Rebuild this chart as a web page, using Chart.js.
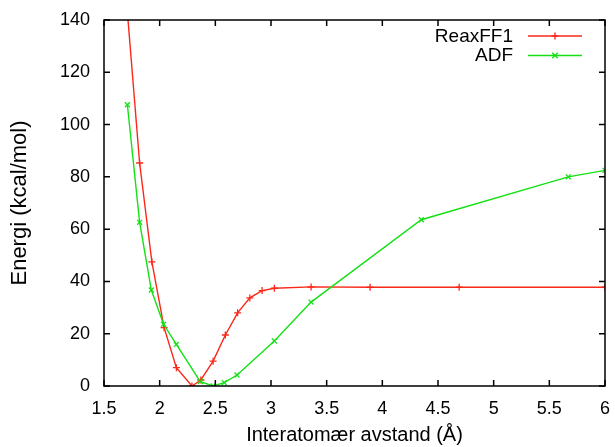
<!DOCTYPE html>
<html>
<head>
<meta charset="utf-8">
<script src="https://cdn.jsdelivr.net/npm/chart.js@4/dist/chart.umd.min.js"></script>
<style>
  body { margin: 0; background: #fff; }
  canvas { display: block; }
</style>
</head>
<body>
<canvas id="energyChart" width="615" height="447"></canvas>
<script>
// values
const reaxDist = [1.71, 1.82, 1.93, 2.04, 2.15, 2.29, 2.37, 2.48, 2.59, 2.70, 2.81, 2.92, 3.03, 3.36, 3.89, 4.69, 6.0];
const reaxEnergy = [143, 85.3, 47.5, 22.3, 7.0, 0, 2.3, 9.5, 19.5, 28.0, 33.7, 36.5, 37.4, 37.9, 37.8, 37.8, 37.8];

const adfDist = [1.71, 1.82, 1.925, 2.035, 2.15, 2.365, 2.48, 2.58, 2.695, 3.03, 3.36, 4.35, 5.67, 6.0];
const adfEnergy = [107.6, 62.6, 36.7, 23.6, 15.9, 1.7, 0, 1.3, 4.2, 17.2, 32.1, 63.6, 80.0, 82.5];

const seriesNames = ['ReaxFF1', 'ADF'];
const xTitle = 'Interatomær avstand (Å)';
const yTitle = 'Energi (kcal/mol)';

const RED = 'rgb(250,40,25)';
const GREEN = 'rgb(20,225,20)';
const FONT = "'Liberation Sans', Arial, sans-serif";

function toPoints(xs, ys) {
    return xs.map((x, i) => ({ x: x, y: ys[i] }));
}

// gnuplot style frame: box with inward ticks on all four sides
const frameTicks = {
    id: 'frameTicks',
    afterDraw(chart) {
        const { ctx, chartArea: a, scales } = chart;
        const len = 6;
        ctx.save();
        ctx.strokeStyle = '#000';
        ctx.lineWidth = 1.5;
        ctx.beginPath();
        scales.x.ticks.forEach(t => {
            const px = scales.x.getPixelForValue(t.value);
            ctx.moveTo(px, a.bottom); ctx.lineTo(px, a.bottom - len);
            ctx.moveTo(px, a.top); ctx.lineTo(px, a.top + len);
        });
        scales.y.ticks.forEach(t => {
            const py = scales.y.getPixelForValue(t.value);
            ctx.moveTo(a.left, py); ctx.lineTo(a.left + len, py);
            ctx.moveTo(a.right, py); ctx.lineTo(a.right - len, py);
        });
        ctx.stroke();
        ctx.strokeRect(a.left, a.top, a.right - a.left, a.bottom - a.top);
        ctx.restore();
    }
};

// legend in the top right corner: text on the left, sample on the right
const keyBox = {
    id: 'keyBox',
    afterDraw(chart) {
        const ctx = chart.ctx;
        const textRight = 513;
        const lineStart = 528, lineEnd = 582;
        ctx.save();
        ctx.font = '19px ' + FONT;
        ctx.textAlign = 'right';
        ctx.textBaseline = 'middle';
        chart.data.datasets.forEach((ds, i) => {
            const y = 36 + i * 19.5;
            ctx.fillStyle = '#000';
            ctx.fillText(ds.label, textRight, y + 0.5);
            ctx.strokeStyle = ds.borderColor;
            ctx.lineWidth = ds.borderWidth;
            ctx.beginPath();
            ctx.moveTo(lineStart, y);
            ctx.lineTo(lineEnd, y);
            ctx.stroke();
            const mx = (lineStart + lineEnd) / 2;
            const r = ds.pointRadius;
            ctx.beginPath();
            if (ds.pointStyle === 'cross') {
                ctx.moveTo(mx - r, y); ctx.lineTo(mx + r, y);
                ctx.moveTo(mx, y - r); ctx.lineTo(mx, y + r);
            } else {
                const d = r * 0.8;
                ctx.moveTo(mx - d, y - d); ctx.lineTo(mx + d, y + d);
                ctx.moveTo(mx - d, y + d); ctx.lineTo(mx + d, y - d);
            }
            ctx.stroke();
        });
        ctx.restore();
    }
};

const ctx = document.getElementById('energyChart').getContext('2d');
new Chart(ctx, {
    type: 'scatter',
    data: {
        datasets: [{
            label: seriesNames[0],
            data: toPoints(reaxDist, reaxEnergy),
            showLine: true,
            borderColor: RED,
            backgroundColor: RED,
            borderWidth: 1.4,
            pointStyle: 'cross',
            pointRadius: 3.5,
            pointBorderWidth: 1.3,
            tension: 0,
            clip: 0,
            order: 2
        }, {
            label: seriesNames[1],
            data: toPoints(adfDist, adfEnergy),
            showLine: true,
            borderColor: GREEN,
            backgroundColor: GREEN,
            borderWidth: 1.4,
            pointStyle: 'crossRot',
            pointRadius: 3.5,
            pointBorderWidth: 1.3,
            tension: 0,
            clip: 0,
            order: 1
        }]
    },
    options: {
        responsive: false,
        animation: false,
        devicePixelRatio: 1,
        layout: { padding: { top: 20, right: 10, left: 0, bottom: 0 } },
        plugins: {
            legend: { display: false },
            tooltip: { enabled: false }
        },
        scales: {
            x: {
                type: 'linear',
                min: 1.5,
                max: 6,
                afterFit: scale => {
                    scale.height = 61;
                    scale.paddingLeft = 0;
                    scale.paddingRight = 0;
                },
                grid: { display: false, drawTicks: false },
                border: { display: false },
                ticks: {
                    stepSize: 0.5,
                    padding: 12,
                    color: '#000',
                    font: { family: FONT, size: 18 },
                    maxRotation: 0,
                    callback: v => String(v)
                },
                title: {
                    display: true,
                    text: xTitle,
                    color: '#000',
                    font: { family: FONT, size: 20 },
                    padding: { top: 0, bottom: 0 }
                }
            },
            y: {
                min: 0,
                max: 140,
                afterFit: scale => {
                    scale.width = 104;
                    scale.paddingTop = 0;
                    scale.paddingBottom = 0;
                },
                grid: { display: false, drawTicks: false },
                border: { display: false },
                ticks: {
                    stepSize: 20,
                    padding: 14,
                    color: '#000',
                    font: { family: FONT, size: 18 }
                },
                title: {
                    display: true,
                    text: yTitle,
                    color: '#000',
                    font: { family: FONT, size: 22 },
                    padding: { top: 7, bottom: 0 }
                }
            }
        }
    },
    plugins: [frameTicks, keyBox]
});
</script>
</body>
</html>
